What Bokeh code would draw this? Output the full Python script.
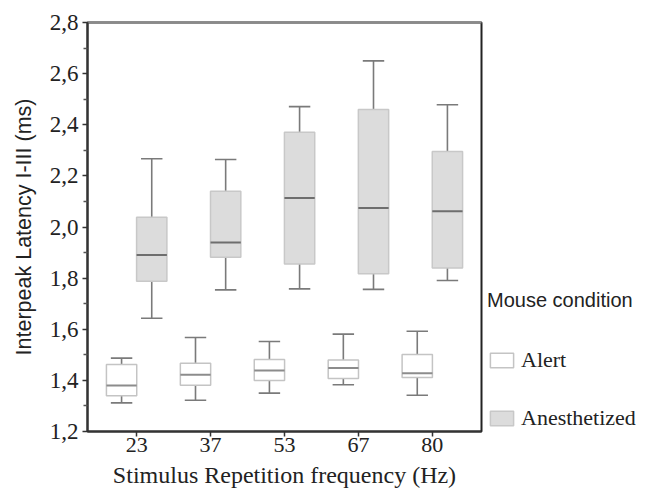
import numpy as np
from bokeh.plotting import figure
from bokeh.layouts import row
from bokeh.models import (FixedTicker, CustomJSTickFormatter, Legend, LegendItem,
                          Range1d, ColumnDataSource, LinearAxis)
from bokeh.embed import file_html
from bokeh.resources import INLINE

# ---- data ----
freqs = ["23", "37", "53", "67", "80"]

alert_wlo = [1.312, 1.322, 1.350, 1.383, 1.342]
alert_q1 = [1.340, 1.381, 1.400, 1.407, 1.411]
alert_med = [1.380, 1.422, 1.439, 1.448, 1.428]
alert_q3 = [1.462, 1.467, 1.482, 1.480, 1.501]
alert_whi = [1.487, 1.568, 1.552, 1.581, 1.592]

anes_wlo = [1.643, 1.754, 1.758, 1.756, 1.791]
anes_q1 = [1.788, 1.882, 1.855, 1.817, 1.840]
anes_med = [1.890, 1.939, 2.113, 2.074, 2.062]
anes_q3 = [2.038, 2.140, 2.371, 2.460, 2.295]
anes_whi = [2.267, 2.264, 2.471, 2.650, 2.478]

y_major = [1.2, 1.4, 1.6, 1.8, 2.0, 2.2, 2.4, 2.6, 2.8]
y_minor = [1.3, 1.5, 1.7, 1.9, 2.1, 2.3, 2.5, 2.7]

series_names = ["Alert", "Anesthetized"]

# ---- styles ----
alert_style = dict(fill="white", line="#c4c4c4", med="#8c8c8c")
anes_style = dict(fill="#dcdcdc", line="#c8c8c8", med="#6e6e6e")
serif = "Liberation Serif"
sans = "Liberation Sans"

pos = np.arange(1, len(freqs) + 1)
dodge = 0.204
box_w = 0.41
cap_w = 0.29

p = figure(width=483, height=494, output_backend="svg", toolbar_location=None,
           x_range=Range1d(0.335, 5.665), y_range=Range1d(1.2, 2.8),
           min_border_left=87, min_border_right=2, min_border_top=22, min_border_bottom=63)
p.xgrid.visible = False
p.ygrid.visible = False
p.background_fill_color = "white"
p.border_fill_color = "white"
p.outline_line_color = "#222222"
p.outline_line_width = 2

def draw_group(xc, wlo, q1, med, q3, whi, st):
    src = ColumnDataSource(dict(x=xc, wlo=wlo, q1=q1, med=med, q3=q3, whi=whi,
                                cl=xc - cap_w / 2, cr=xc + cap_w / 2,
                                bl=xc - box_w / 2, br=xc + box_w / 2))
    wc = "#7a7a7a"
    p.segment(x0="x", y0="q3", x1="x", y1="whi", source=src, line_color=wc, line_width=1.6)
    p.segment(x0="x", y0="wlo", x1="x", y1="q1", source=src, line_color=wc, line_width=1.6)
    p.segment(x0="cl", y0="whi", x1="cr", y1="whi", source=src, line_color=wc, line_width=1.6)
    p.segment(x0="cl", y0="wlo", x1="cr", y1="wlo", source=src, line_color=wc, line_width=1.6)
    p.vbar(x="x", width=box_w, bottom="q1", top="q3", source=src,
           fill_color=st["fill"], line_color=st["line"], line_width=1.5)
    p.segment(x0="bl", y0="med", x1="br", y1="med", source=src, line_color=st["med"], line_width=2)
    return src

src_alert = draw_group(pos - dodge, alert_wlo, alert_q1, alert_med, alert_q3, alert_whi, alert_style)
src_anes = draw_group(pos + dodge, anes_wlo, anes_q1, anes_med, anes_q3, anes_whi, anes_style)

# ---- axes ----
ya = p.yaxis[0]
ya.ticker = FixedTicker(ticks=y_major, minor_ticks=y_minor)
ya.formatter = CustomJSTickFormatter(code="return tick.toFixed(1).replace('.', ',');")
ya.major_label_text_font = serif
ya.major_label_text_font_size = "23px"
ya.major_label_text_color = "#222222"
ya.major_label_standoff = 4
ya.major_tick_in = 0
ya.major_tick_out = 5
ya.minor_tick_in = 0
ya.minor_tick_out = 4
ya.axis_line_color = "#333333"
ya.axis_line_width = 2
ya.major_tick_line_color = "#333333"
ya.major_tick_line_width = 1.5
ya.minor_tick_line_color = "#555555"
ya.minor_tick_line_width = 1.5
ya.axis_label = "Interpeak Latency I-III (ms)"
ya.axis_label_text_font = sans
ya.axis_label_text_font_size = "21.5px"
ya.axis_label_text_font_style = "normal"
ya.axis_label_text_color = "#222222"
ya.axis_label_standoff = 11

xa = p.xaxis[0]
xa.ticker = FixedTicker(ticks=list(pos), minor_ticks=[])
xa.major_label_overrides = {int(k): v for k, v in zip(pos, freqs)}
xa.major_label_text_font = serif
xa.major_label_text_font_size = "22px"
xa.major_label_text_color = "#222222"
xa.major_label_standoff = 1
xa.major_tick_in = 0
xa.major_tick_out = 5
xa.axis_line_color = "#333333"
xa.axis_line_width = 2
xa.major_tick_line_color = "#333333"
xa.major_tick_line_width = 1.5
xa.axis_label = "Stimulus Repetition frequency (Hz)"
xa.axis_label_text_font = serif
xa.axis_label_text_font_size = "24px"
xa.axis_label_text_font_style = "normal"
xa.axis_label_text_color = "#222222"
xa.axis_label_standoff = 7

# grey top edge of the frame (no ticks, no labels)
top_axis = LinearAxis(ticker=FixedTicker(ticks=[]), major_tick_line_color=None,
                      minor_tick_line_color=None, major_label_text_font_size="0px",
                      axis_line_color="#8a8a8a", axis_line_width=2)
p.add_layout(top_axis, "above")

# ---- legend panel (separate figure to the right) ----
pl = figure(width=162, height=494, output_backend="svg", toolbar_location=None,
            x_range=Range1d(0, 1), y_range=Range1d(0, 1),
            min_border_left=0, min_border_right=0, min_border_top=0, min_border_bottom=0)
pl.axis.visible = False
pl.grid.visible = False
pl.outline_line_color = None
pl.background_fill_color = "white"
pl.border_fill_color = "white"

proxies = []
for src, st in ((src_alert, alert_style), (src_anes, anes_style)):
    r = pl.vbar(x="x", top="q3", bottom="q1", width=box_w, source=src,
                fill_color=st["fill"], line_color=st["line"], line_width=1.5)
    r.visible = False
    proxies.append(r)

legend = Legend(items=[LegendItem(label=n, renderers=[r]) for n, r in zip(series_names, proxies)],
                location=(4, 0), orientation="vertical",
                title="Mouse condition", title_text_font=sans, title_text_font_size="20px",
                title_text_font_style="normal", title_text_color="#222222", title_standoff=35,
                label_text_font=serif, label_text_font_size="22px", label_text_color="#222222",
                glyph_width=29, glyph_height=18, label_standoff=5, spacing=32,
                padding=0, margin=0, border_line_color=None, background_fill_alpha=0,
                inactive_fill_alpha=0)
pl.add_layout(legend, "center")

layout = row(p, pl, spacing=0)
open("out.html", "w").write(file_html(layout, INLINE))
